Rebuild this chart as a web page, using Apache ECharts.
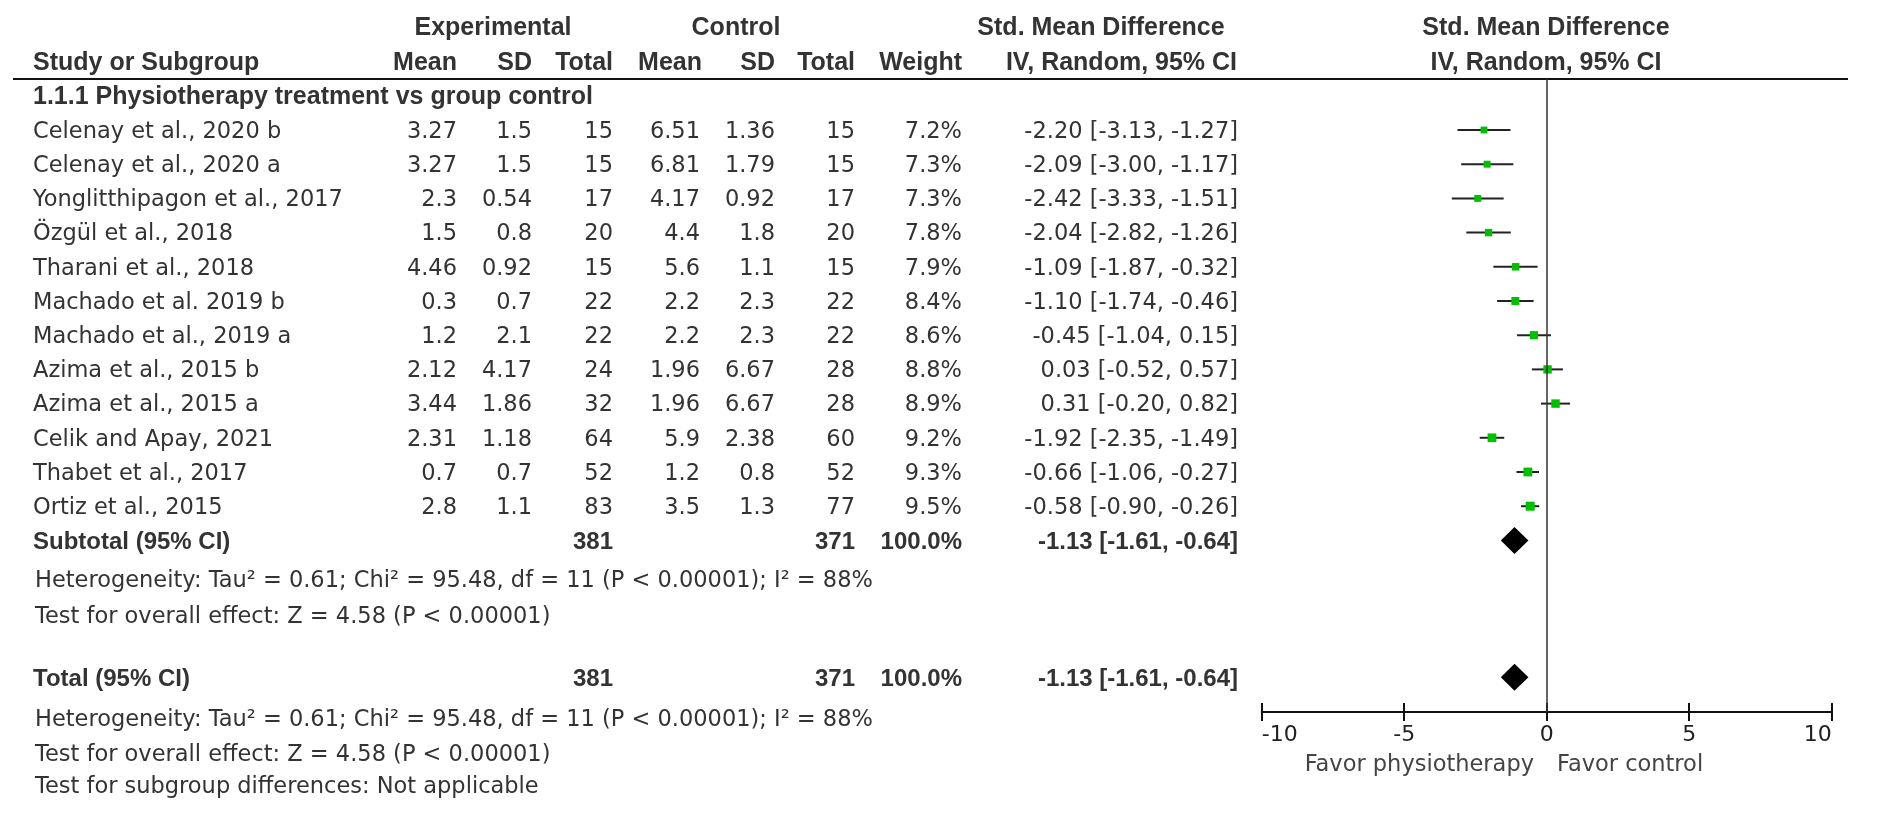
<!DOCTYPE html>
<html>
<head>
<meta charset="utf-8">
<script src="https://cdn.jsdelivr.net/npm/echarts@6/dist/echarts.min.js"></script>
<style>html,body{margin:0;padding:0;background:#fff}#c{width:1878px;height:814px}</style>
</head>
<body>
<div id="c"></div>
<script>
// ---------------- data ----------------
const studies = [
  'Celenay et al., 2020 b', 'Celenay et al., 2020 a', 'Yonglitthipagon et al., 2017',
  'Özgül et al., 2018', 'Tharani et al., 2018', 'Machado et al. 2019 b',
  'Machado et al., 2019 a', 'Azima et al., 2015 b', 'Azima et al., 2015 a',
  'Celik and Apay, 2021', 'Thabet et al., 2017', 'Ortiz et al., 2015'
];
const expMean  = [3.27, 3.27, 2.3, 1.5, 4.46, 0.3, 1.2, 2.12, 3.44, 2.31, 0.7, 2.8];
const expSD    = [1.5, 1.5, 0.54, 0.8, 0.92, 0.7, 2.1, 4.17, 1.86, 1.18, 0.7, 1.1];
const expTotal = [15, 15, 17, 20, 15, 22, 22, 24, 32, 64, 52, 83];
const ctlMean  = [6.51, 6.81, 4.17, 4.4, 5.6, 2.2, 2.2, 1.96, 1.96, 5.9, 1.2, 3.5];
const ctlSD    = [1.36, 1.79, 0.92, 1.8, 1.1, 2.3, 2.3, 6.67, 6.67, 2.38, 0.8, 1.3];
const ctlTotal = [15, 15, 17, 20, 15, 22, 22, 28, 28, 60, 52, 77];
const weights  = [7.2, 7.3, 7.3, 7.8, 7.9, 8.4, 8.6, 8.8, 8.9, 9.2, 9.3, 9.5];
const smd      = [-2.20, -2.09, -2.42, -2.04, -1.09, -1.10, -0.45, 0.03, 0.31, -1.92, -0.66, -0.58];
const ciLow    = [-3.13, -3.00, -3.33, -2.82, -1.87, -1.74, -1.04, -0.52, -0.20, -2.35, -1.06, -0.90];
const ciHigh   = [-1.27, -1.17, -1.51, -1.26, -0.32, -0.46, 0.15, 0.57, 0.82, -1.49, -0.27, -0.26];
const pooledLabels = ['Subtotal (95% CI)', 'Total (95% CI)'];
const pooledExpTotal = [381, 381];
const pooledCtlTotal = [371, 371];
const pooledWeight = [100.0, 100.0];
const pooledSMD  = [-1.13, -1.13];
const pooledLow  = [-1.61, -1.61];
const pooledHigh = [-0.64, -0.64];
const xTicks = [-10, -5, 0, 5, 10];
const subgroupTitle = '1.1.1 Physiotherapy treatment vs group control';
const heterogeneityText = 'Heterogeneity: Tau² = 0.61; Chi² = 95.48, df = 11 (P < 0.00001); I² = 88%';
const overallText = 'Test for overall effect: Z = 4.58 (P < 0.00001)';
const subgroupDiffText = 'Test for subgroup differences: Not applicable';
const favorLeft = 'Favor physiotherapy';
const favorRight = 'Favor control';

// ---------------- layout ----------------
const ROW0 = 130, ROWH = 34.2, GRID_TOP = 79, GRID_BOTTOM_Y = 712;
const GRID_LEFT = 1261.7, GRID_W = 570;
const yMin = (GRID_TOP - ROW0) / ROWH;
const yMax = (GRID_BOTTOM_Y - ROW0) / ROWH;
const pooledRows = [12, 16];
const TXT_DY = 2;
const col = {name: 33, expMean: 457, expSD: 532, expTotal: 613, ctlMean: 700, ctlSD: 775, ctlTotal: 855, weight: 962, ci: 1238};
const BOLD = 'bold 25px "Liberation Sans", Arial, sans-serif';
const BOLD_B = 'bold 24px "Liberation Sans", Arial, sans-serif';
const REG = '22.5px "DejaVu Sans", sans-serif';
const INK = '#333';

function rowY(i) { return ROW0 + ROWH * i + TXT_DY; }
function txt(x, y, s, align, font, fill) {
  return {type: 'text', x: x, y: y, silent: true,
    style: {text: s, font: font, fill: fill || INK,
      textAlign: align, textVerticalAlign: 'middle', align: align, verticalAlign: 'middle'}};
}
function ciStr(e, l, h) { return e.toFixed(2) + ' [' + l.toFixed(2) + ', ' + h.toFixed(2) + ']'; }

const g = [];
// headers
g.push(txt(493, 28, 'Experimental', 'center', BOLD));
g.push(txt(736, 28, 'Control', 'center', BOLD));
g.push(txt(1101, 28, 'Std. Mean Difference', 'center', BOLD));
g.push(txt(1546, 28, 'Std. Mean Difference', 'center', BOLD));
g.push(txt(col.name, 63, 'Study or Subgroup', 'left', BOLD));
g.push(txt(col.expMean, 63, 'Mean', 'right', BOLD));
g.push(txt(col.expSD, 63, 'SD', 'right', BOLD));
g.push(txt(col.expTotal, 63, 'Total', 'right', BOLD));
g.push(txt(col.ctlMean + 2, 63, 'Mean', 'right', BOLD));
g.push(txt(col.ctlSD, 63, 'SD', 'right', BOLD));
g.push(txt(col.ctlTotal, 63, 'Total', 'right', BOLD));
g.push(txt(col.weight, 63, 'Weight', 'right', BOLD));
g.push(txt(col.ci - 1, 63, 'IV, Random, 95% CI', 'right', BOLD));
g.push(txt(1546, 63, 'IV, Random, 95% CI', 'center', BOLD));
g.push({type: 'line', silent: true, shape: {x1: 13, y1: 79, x2: 1848, y2: 79}, style: {stroke: '#111', lineWidth: 2}});
g.push(txt(col.name, 97, subgroupTitle, 'left', BOLD));

// study rows
studies.forEach(function (s, i) {
  const y = rowY(i);
  g.push(txt(col.name, y, s, 'left', REG));
  g.push(txt(col.expMean, y, String(expMean[i]), 'right', REG));
  g.push(txt(col.expSD, y, String(expSD[i]), 'right', REG));
  g.push(txt(col.expTotal, y, String(expTotal[i]), 'right', REG));
  g.push(txt(col.ctlMean, y, String(ctlMean[i]), 'right', REG));
  g.push(txt(col.ctlSD, y, String(ctlSD[i]), 'right', REG));
  g.push(txt(col.ctlTotal, y, String(ctlTotal[i]), 'right', REG));
  g.push(txt(col.weight, y, weights[i].toFixed(1) + '%', 'right', REG));
  g.push(txt(col.ci, y, ciStr(smd[i], ciLow[i], ciHigh[i]), 'right', REG));
});

// pooled rows
pooledLabels.forEach(function (s, k) {
  const y = rowY(pooledRows[k]);
  g.push(txt(col.name, y, s, 'left', BOLD_B));
  g.push(txt(col.expTotal, y, String(pooledExpTotal[k]), 'right', BOLD_B));
  g.push(txt(col.ctlTotal, y, String(pooledCtlTotal[k]), 'right', BOLD_B));
  g.push(txt(col.weight, y, pooledWeight[k].toFixed(1) + '%', 'right', BOLD_B));
  g.push(txt(col.ci, y, ciStr(pooledSMD[k], pooledLow[k], pooledHigh[k]), 'right', BOLD_B));
});
g.push(txt(col.name + 2, 581, heterogeneityText, 'left', REG));
g.push(txt(col.name + 2, 617, overallText, 'left', REG));
g.push(txt(col.name + 2, 720, heterogeneityText, 'left', REG));
g.push(txt(col.name + 2, 755, overallText, 'left', REG));
g.push(txt(col.name + 2, 787, subgroupDiffText, 'left', REG));
g.push(txt(1534, 765, favorLeft, 'right', '22.5px "DejaVu Sans", sans-serif', '#444'));
g.push(txt(1557, 765, favorRight, 'left', '22.5px "DejaVu Sans", sans-serif', '#444'));

// ---------------- chart ----------------
const chart = echarts.init(document.getElementById('c'), null, {renderer: 'canvas'});
const axisCommon = {
  type: 'value', min: xTicks[0], max: xTicks[xTicks.length - 1], interval: xTicks[1] - xTicks[0],
  position: 'bottom', splitLine: {show: false}
};
chart.setOption({
  backgroundColor: '#fff',
  animation: false,
  grid: {left: GRID_LEFT, width: GRID_W, top: GRID_TOP, height: GRID_BOTTOM_Y - GRID_TOP, containLabel: false},
  xAxis: [
    Object.assign({}, axisCommon, {
      axisLine: {show: true, onZero: false, lineStyle: {color: '#111', width: 2}},
      axisTick: {show: true, inside: true, length: 9, lineStyle: {color: '#111', width: 2}},
      axisLabel: {show: true, margin: 12, fontSize: 22, fontFamily: 'DejaVu Sans', color: '#222',
        alignMinLabel: 'left', alignMaxLabel: 'right'}
    }),
    Object.assign({}, axisCommon, {
      axisLine: {show: false, onZero: false},
      axisTick: {show: true, inside: false, length: 9, lineStyle: {color: '#111', width: 2}},
      axisLabel: {show: false}
    })
  ],
  yAxis: {type: 'value', inverse: true, min: yMin, max: yMax, show: false, splitLine: {show: false}},
  series: [
    {
      name: 'CI', type: 'custom', silent: true,
      data: studies.map(function (s, i) { return [ciLow[i], ciHigh[i], i]; }),
      renderItem: function (params, api) {
        const a = api.coord([api.value(0), api.value(2)]);
        const b = api.coord([api.value(1), api.value(2)]);
        return {type: 'line', shape: {x1: a[0], y1: a[1], x2: b[0], y2: b[1]},
          style: {stroke: '#222', lineWidth: 2}};
      },
      markLine: {
        silent: true, symbol: 'none', label: {show: false},
        lineStyle: {color: '#333', width: 1.5, type: 'solid'},
        data: [{xAxis: 0}]
      },
      z: 2
    },
    {
      name: 'SMD', type: 'scatter', silent: true, symbol: 'rect',
      data: studies.map(function (s, i) { return [smd[i], i, weights[i]]; }),
      symbolSize: function (v) { return v[2] * 0.95; },
      itemStyle: {color: '#00c000', opacity: 1},
      z: 3
    },
    {
      name: 'Pooled', type: 'custom', silent: true,
      data: pooledRows.map(function (r, k) { return [pooledSMD[k], pooledLow[k], pooledHigh[k], r]; }),
      renderItem: function (params, api) {
        const c = api.coord([api.value(0), api.value(3)]);
        const l = api.coord([api.value(1), api.value(3)]);
        const h = api.coord([api.value(2), api.value(3)]);
        const hh = 13.5;
        return {type: 'polygon', shape: {points: [[l[0], c[1]], [c[0], c[1] - hh], [h[0], c[1]], [c[0], c[1] + hh]]},
          style: {fill: '#000'}};
      },
      z: 3
    }
  ],
  graphic: {elements: g}
});
</script>
</body>
</html>
